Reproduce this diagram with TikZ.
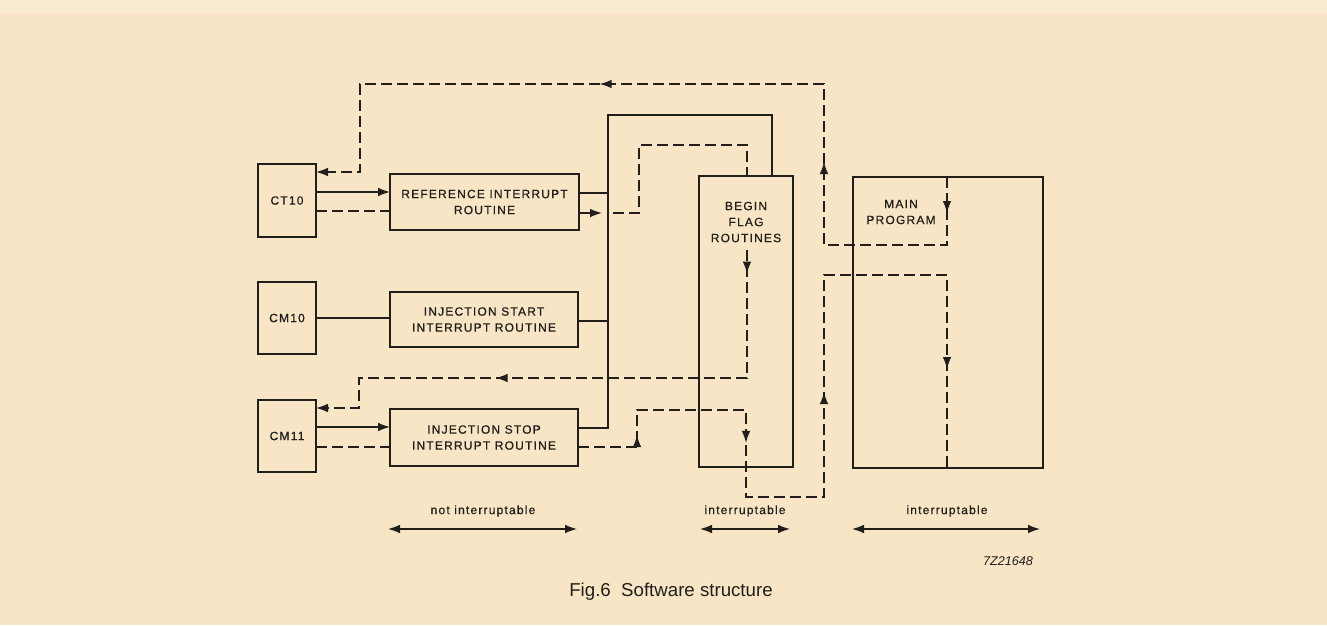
\documentclass[tikz,border=0pt]{standalone}
\usepackage{fontspec}
\setmainfont{Liberation Sans}
\newfontfamily\bxf[LetterSpace=10,FakeBold=0.6]{Liberation Sans}
\usetikzlibrary{arrows.meta,decorations.markings,calc}
\definecolor{paper}{RGB}{247,229,198}
\definecolor{paperlight}{RGB}{249,235,210}
\definecolor{ink}{RGB}{34,30,27}
\newcommand\tipa{\arrow{Latex[length=9pt,width=6.5pt]}}
\begin{document}
\begin{tikzpicture}[x=0.75pt,y=-0.75pt,
  box/.style={draw=ink,line width=1pt,inner sep=0pt,outer sep=0pt,font=\bxf\fontsize{9}{12}\selectfont,align=center,text=ink},
  lbl/.style={font=\bxf\fontsize{9}{12}\selectfont,align=center,text=ink,inner sep=0pt},
  wire/.style={draw=ink,line width=1pt},
  dwire/.style={wire,dash pattern=on 8pt off 4pt},
  tip/.style={-{Latex[length=9pt,width=6.5pt]}},
  dtip/.style={{Latex[length=9pt,width=6.5pt]}-{Latex[length=9pt,width=6.5pt]}},
]
\fill[paper] (0,0) rectangle (1327,625);
\fill[paperlight] (0,0) rectangle (1327,14);
\useasboundingbox (0,0) rectangle (1327,625);

% boxes
\node[box,minimum width=43.5pt,minimum height=54.75pt] (ct) at (287,200.5) {CT10};
\node[box,minimum width=43.5pt,minimum height=54pt] (cma) at (287,318) {CM10};
\node[box,minimum width=43.5pt,minimum height=54pt] (cmb) at (287,436) {CM11};
\node[box,minimum width=141.75pt,minimum height=42pt] (ref) at (484.5,202) {REFERENCE INTERRUPT\\ROUTINE};
\node[box,minimum width=141pt,minimum height=41.25pt] (ist) at (484,319.5) {INJECTION START\\INTERRUPT ROUTINE};
\node[box,minimum width=141pt,minimum height=42.75pt] (isp) at (484,437.5) {INJECTION STOP\\INTERRUPT ROUTINE};
\node[box,minimum width=70.5pt,minimum height=218.25pt] (bf) at (746,321.5) {};
\node[lbl] (bft) at (746,222) {BEGIN\\FLAG\\ROUTINES};
\node[box,minimum width=142.5pt,minimum height=218.25pt] (mp) at (948,322.5) {};
\node[lbl] (mpt) at (901,212) {MAIN\\PROGRAM};

% named free ends
\coordinate (rfa) at (602,213);
\coordinate (rfb) at (613,213);
\coordinate (bfa) at (747,250);
\coordinate (b1) at (608,193);
\coordinate (b2) at (608,321);

% solid connectors
\draw[wire,tip] (ct.east |- 0,192) -- (ref.west |- 0,192);
\draw[wire] (cma.east |- 0,318) -- (ist.west |- 0,318);
\draw[wire,tip] (cmb.east |- 0,427) -- (isp.west |- 0,427);
\draw[wire] (ref.east |- 0,193) -- (b1);
\draw[wire] (ist.east |- 0,321) -- (b2);
\draw[wire] (isp.east |- 0,428) -- (608,428) -- (608,115) -- (772,115) -- (bf.north -| 772,0);
\draw[wire,tip] (ref.east |- 0,213) -- (rfa);

% dashed connectors
\draw[dwire] (ct.east |- 0,211) -- (ref.west |- 0,211);
\draw[dwire] (cmb.east |- 0,447) -- (isp.west |- 0,447);
\draw[dwire] (rfb) -- (639,213) -- (639,145) -- (747,145) -- (bf.north -| 747,0);
\draw[dwire,tip,postaction={decorate},decoration={markings,
   mark=at position 0.04 with {\tipa},
   mark=at position 0.644 with {\tipa}}]
  (bfa) -- (747,378) -- (359,378) -- (359,408) -- (cmb.east |- 0,408);
\draw[dwire,postaction={decorate},decoration={markings,
   mark=at position 0.078 with {\tipa},
   mark=at position 0.262 with {\tipa},
   mark=at position 0.523 with {\tipa},
   mark=at position 0.891 with {\tipa}}]
  (isp.east |- 0,447) -- (637,447) -- (637,410) -- (746,410) -- (746,497) -- (824,497) -- (824,275) -- (947,275) -- (mp.south -| 947,0);
\draw[dwire,tip,postaction={decorate},decoration={markings,
   mark=at position 0.038 with {\tipa},
   mark=at position 0.289 with {\tipa},
   mark=at position 0.608 with {\tipa}}]
  (mp.north -| 947,0) -- (947,245) -- (824,245) -- (824,84) -- (360,84) -- (360,172) -- (ct.east |- 0,172);

% bottom ranges
\coordinate (la) at (388,529); \coordinate (lb) at (577,529);
\coordinate (ma) at (700,529); \coordinate (mb) at (790,529);
\coordinate (ra) at (852,529); \coordinate (rb) at (1040,529);
\draw[wire,dtip] (la) -- (lb);
\draw[wire,dtip] (ma) -- (mb);
\draw[wire,dtip] (ra) -- (rb);
\node[lbl] (t1) at (483,511) {not\ interruptable};
\node[lbl] (t2) at (745,511) {interruptable};
\node[lbl] (t3) at (947,511) {interruptable};
\node[font=\fontsize{9.5}{11}\selectfont\itshape,text=ink,inner sep=0pt] (code) at (1008,561) {7Z21648};
\node[font=\fontsize{14}{16}\selectfont,text=ink,inner sep=0pt] (cap) at (671,592) {Fig.6\ \ Software structure};
\end{tikzpicture}
\end{document}
